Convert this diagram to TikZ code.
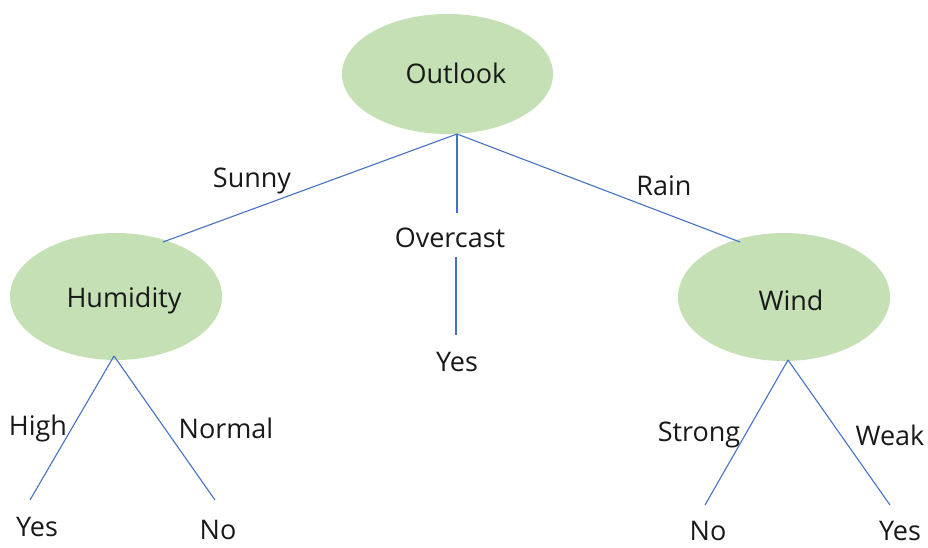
\documentclass[tikz,border=0pt]{standalone}
\usepackage{fontspec}
\setmainfont{Open Sans}
\usetikzlibrary{shapes.geometric}
\definecolor{leafgreen}{HTML}{C5E0B4}
\definecolor{edgeblue}{HTML}{4472C4}
\begin{document}
\begin{tikzpicture}[x=1pt,y=-1pt,
  attr/.style={ellipse, fill=leafgreen, inner sep=0pt},
  lbl/.style={font=\fontsize{27}{30}\selectfont, text=black!90, inner sep=0pt},
  edge/.style={draw=edgeblue, line width=1.1pt}]
\useasboundingbox (0,0) rectangle (928,548);
% attribute nodes
\node[attr, minimum width=211pt, minimum height=120pt] (outlook) at (447.5,74) {};
\node[attr, minimum width=212pt, minimum height=127pt] (humidity) at (116,296.5) {};
\node[attr, minimum width=212pt, minimum height=128pt] (wind) at (784,297) {};
\node[lbl] (toutlook) at (456,73) {Outlook};
\node[lbl] (thumidity) at (124,300) {Humidity};
\node[lbl] (twind) at (791,300) {Wind};
% branch labels and leaves
\node[lbl] (sunny) at (252,181) {Sunny};
\node[lbl] (overcast) at (450,238) {Overcast};
\node[lbl] (rain) at (664,186) {Rain};
\node[lbl] (yesmid) at (457,362) {Yes};
\node[lbl] (high) at (38,428) {High};
\node[lbl] (normal) at (226,428) {Normal};
\node[lbl] (yesl) at (37,527) {Yes};
\node[lbl] (nol) at (218,530) {No};
\node[lbl] (strong) at (699,435) {Strong};
\node[lbl] (weak) at (890,435) {Weak};
\node[lbl] (nor) at (708,531) {No};
\node[lbl] (yesr) at (900,531) {Yes};
% connector end points
\coordinate (oroot) at (457,134);
\coordinate (hin) at (163,242);
\coordinate (win) at (740,242);
\coordinate (ovtop) at (457,213);
\coordinate (ovbot) at (456,257);
\coordinate (ovend) at (456,335);
\coordinate (hroot) at (114,356);
\coordinate (hyes) at (30,500);
\coordinate (hno) at (215,500);
\coordinate (wroot) at (788,360);
\coordinate (wno) at (705,505);
\coordinate (wyes) at (890,505);
% connectors
\draw[edge] (oroot) -- (hin);
\draw[edge] (oroot) -- (win);
\draw[edge] (oroot) -- (ovtop);
\draw[edge] (ovbot) -- (ovend);
\draw[edge] (hroot) -- (hyes);
\draw[edge] (hroot) -- (hno);
\draw[edge] (wroot) -- (wno);
\draw[edge] (wroot) -- (wyes);
\end{tikzpicture}
\end{document}
